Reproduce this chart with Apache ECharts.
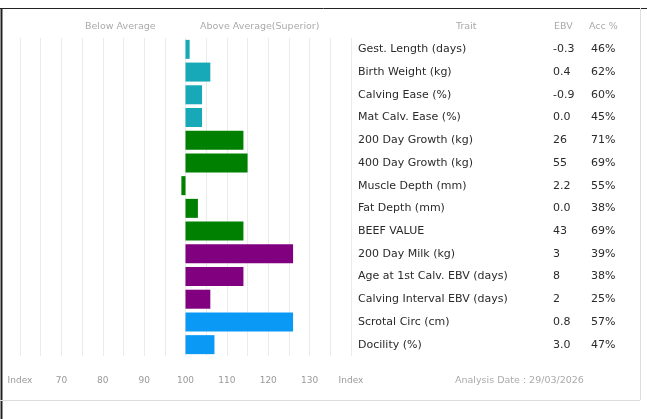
<!DOCTYPE html>
<html><head><meta charset="utf-8">
<script src="https://cdn.jsdelivr.net/npm/echarts@6/dist/echarts.min.js"></script>
<style>html,body{margin:0;padding:0;background:#fff}#c{width:647px;height:419px}</style>
</head><body><div id="c"></div>
<script>
var traits = ["Gest. Length (days)","Birth Weight (kg)","Calving Ease (%)","Mat Calv. Ease (%)","200 Day Growth (kg)","400 Day Growth (kg)","Muscle Depth (mm)","Fat Depth (mm)","BEEF VALUE","200 Day Milk (kg)","Age at 1st Calv. EBV (days)","Calving Interval EBV (days)","Scrotal Circ (cm)","Docility (%)"];
var ebv = ["-0.3","0.4","-0.9","0.0","26","55","2.2","0.0","43","3","8","2","0.8","3.0"];
var acc = ["46%","62%","60%","45%","71%","69%","55%","38%","69%","39%","38%","25%","57%","47%"];
var indexValues = [101,106,104,104,114,115,99,103,114,126,114,106,126,107];
var barColors = ["#17a9b8","#17a9b8","#17a9b8","#17a9b8","#008000","#008000","#008000","#008000","#008000","#800080","#800080","#800080","#0a99f5","#0a99f5"];
var axisBase = 100;
var axisMin = 60, axisMax = 140, axisStep = 5;

var chart = echarts.init(document.getElementById('c'), null, {renderer:'canvas'});
var F = '"DejaVu Sans", sans-serif';
chart.setOption({
  animation:false,
  grid:{left:20, right:296, top:38, height:318},
  xAxis:{type:'value', min:axisMin-axisBase, max:axisMax-axisBase, interval:axisStep,
    axisLine:{show:false}, axisTick:{show:false},
    splitLine:{show:true, lineStyle:{color:'#ebebeb', width:1}},
    axisLabel:{margin:20, color:'#999', fontSize:9, fontFamily:F,
      formatter:function(v){ var a=v+axisBase; if(a===axisMin||a===axisMax) return 'Index'; return a%10===0? String(a):''; }}},
  yAxis:[
    {type:'category', data:traits, inverse:true, show:false},
    {type:'category', data:traits, inverse:true, position:'right', axisLine:{show:false}, axisTick:{show:false},
     axisLabel:{margin:7, align:'left', fontFamily:F,
       formatter:function(v,i){ return '{t|'+v+'}{e|'+ebv[i]+'}{a|'+acc[i]+'}'; },
       rich:{t:{width:195, fontSize:11, color:'#2a2a2a', fontFamily:F},
             e:{width:38, fontSize:11, color:'#2a2a2a', fontFamily:F},
             a:{fontSize:11, color:'#2a2a2a', fontFamily:F}}}}
  ],
  series:[{type:'bar', yAxisIndex:0, barWidth:19,
    data:indexValues.map(function(v,i){return {value:v-axisBase, itemStyle:{color:barColors[i]}};})}],
  graphic:[
    {type:'text', left:85, top:22, style:{text:'Below Average', fill:'#aaa', font:'9.5px '+F}},
    {type:'text', left:200, top:22, style:{text:'Above Average(Superior)', fill:'#aaa', font:'9.5px '+F}},
    {type:'text', left:456, top:22, style:{text:'Trait', fill:'#aaa', font:'9.5px '+F}},
    {type:'text', left:554, top:22, style:{text:'EBV', fill:'#aaa', font:'9.5px '+F}},
    {type:'text', left:589, top:22, style:{text:'Acc %', fill:'#aaa', font:'9.5px '+F}},
    {type:'text', left:455, top:376, style:{text:'Analysis Date : 29/03/2026', fill:'#aaa', font:'9.5px '+F}},
    {type:'line', shape:{x1:0,y1:8.5,x2:647,y2:8.5}, style:{stroke:'#222', lineWidth:1}},
    {type:'line', shape:{x1:1.5,y1:8,x2:1.5,y2:419}, style:{stroke:'#222', lineWidth:2}},
    {type:'line', shape:{x1:640.5,y1:8,x2:640.5,y2:400}, style:{stroke:'#ddd', lineWidth:1}},
    {type:'line', shape:{x1:0,y1:400.5,x2:640,y2:400.5}, style:{stroke:'#ddd', lineWidth:1}}
  ]
});
</script></body></html>
